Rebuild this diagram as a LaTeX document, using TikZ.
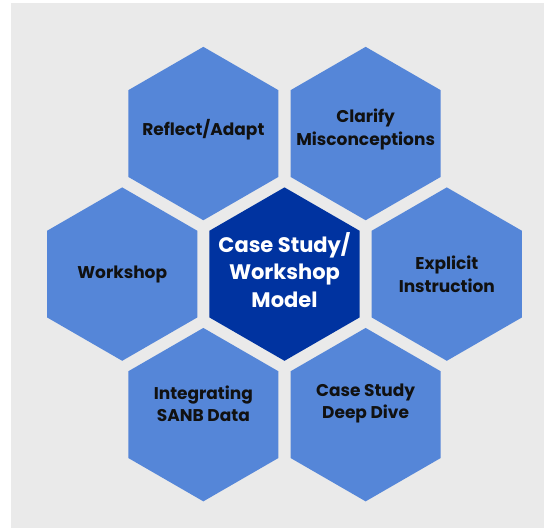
\documentclass[tikz,border=0pt]{standalone}
\usepackage{fontspec}
\setmainfont{Poppins}
\usetikzlibrary{shapes.geometric}

\definecolor{pagegray}{RGB}{234,234,234}
\definecolor{celblue}{RGB}{85,134,216}
\definecolor{hubblue}{RGB}{0,51,160}
\definecolor{inkdark}{RGB}{17,17,17}

\tikzset{
  hexcell/.style={regular polygon, regular polygon sides=6, regular polygon rotate=30,
    minimum size=173.4pt, inner sep=0pt, outer sep=0pt, fill=celblue},
  hubcell/.style={hexcell, fill=hubblue},
  celltext/.style={font=\bfseries\fontsize{17}{22.5}\selectfont, text=inkdark, align=center, inner sep=0pt},
  hubtext/.style={font=\bfseries\fontsize{21}{27.5}\selectfont, text=white, align=center, inner sep=0pt}
}

\begin{document}
\begin{tikzpicture}[x=1pt,y=1pt]

\useasboundingbox (0,0) rectangle (544,528);
\fill[white] (0,0) rectangle (544,528);
\fill[pagegray] (11,0) rectangle (544,525);

% centre
\node[hubcell, label={[hubtext,yshift=4pt]center:Case Study/\\Workshop\\Model}] (hub) at (284.5,253.9) {};

% ring
\node[hexcell, label={[celltext,yshift=4pt]center:Reflect/Adapt}] (reflect) at (203.35,394.45) {};
\node[hexcell, label={[celltext,yshift=4pt]center:Clarify\\Misconceptions}] (clarify) at (365.65,394.45) {};
\node[hexcell, label={[celltext]center:Workshop}] (workshop) at (122.2,253.9) {};
\node[hexcell, label={[celltext]center:Explicit\\Instruction}] (explicit) at (446.8,253.9) {};
\node[hexcell, label={[celltext,yshift=11pt]center:Integrating\\SANB Data}] (sanb) at (203.35,113.35) {};
\node[hexcell, label={[celltext,yshift=11pt]center:Case Study\\Deep Dive}] (deepdive) at (365.65,113.35) {};

\end{tikzpicture}
\end{document}
